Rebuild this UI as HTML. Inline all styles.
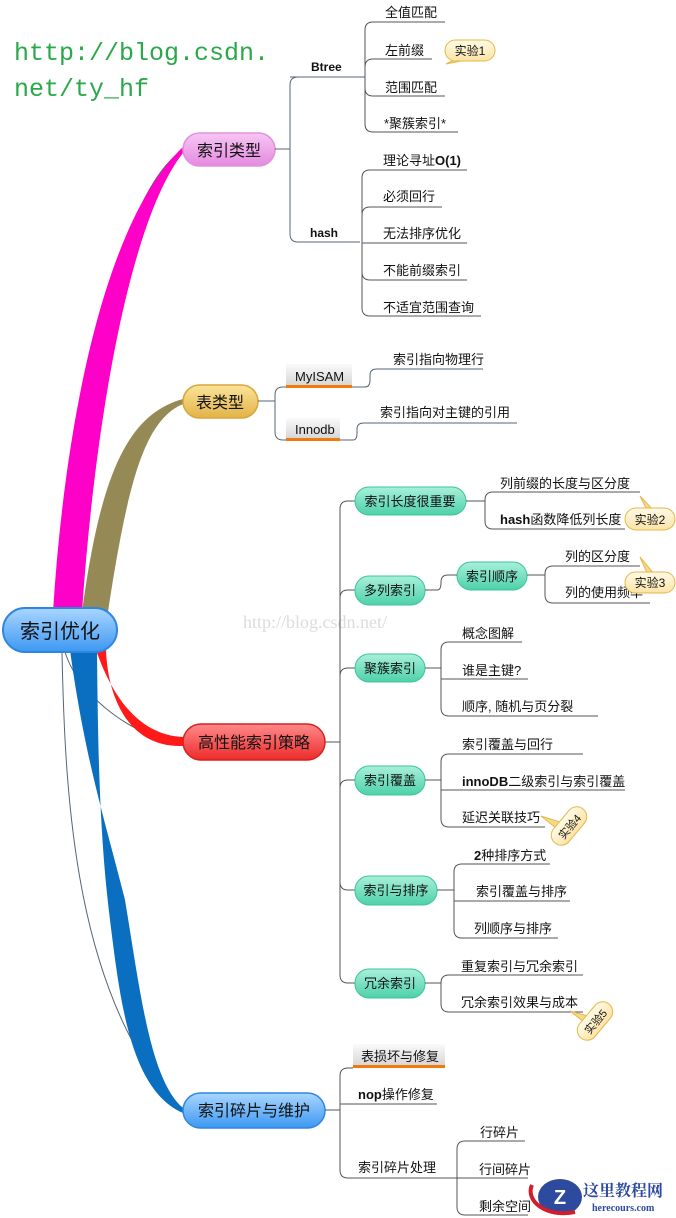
<!DOCTYPE html>
<html><head><meta charset="utf-8"><style>
html,body{margin:0;padding:0;background:#fff;}
svg{display:block;}
text{font-family:"Liberation Sans","Noto Sans CJK SC",sans-serif;fill:#111;}
.t{font-size:13px;}
.p{font-size:16px;}
.ln{fill:none;stroke:#556677;stroke-width:1;}
.gl{fill:none;stroke:#555;stroke-width:1;}
</style></head><body>
<svg width="676" height="1218" viewBox="0 0 676 1218" xmlns="http://www.w3.org/2000/svg">
<defs>
<linearGradient id="gPink" x1="0" y1="0" x2="0" y2="1"><stop offset="0" stop-color="#f7c6f3"/><stop offset="1" stop-color="#e58ae0"/></linearGradient>
<linearGradient id="gGold" x1="0" y1="0" x2="0" y2="1"><stop offset="0" stop-color="#fbe49a"/><stop offset="1" stop-color="#e3b346"/></linearGradient>
<linearGradient id="gRed" x1="0" y1="0" x2="0" y2="1"><stop offset="0" stop-color="#ff8a8a"/><stop offset="1" stop-color="#ee2a2a"/></linearGradient>
<linearGradient id="gBlue" x1="0" y1="0" x2="0" y2="1"><stop offset="0" stop-color="#a9d6ff"/><stop offset="1" stop-color="#3d98f2"/></linearGradient>
<linearGradient id="gTeal" x1="0" y1="0" x2="0" y2="1"><stop offset="0" stop-color="#a8f0da"/><stop offset="1" stop-color="#4dd1a9"/></linearGradient>
<linearGradient id="gGrey" x1="0" y1="0" x2="0" y2="1"><stop offset="0" stop-color="#fafafa"/><stop offset="1" stop-color="#d4d4d4"/></linearGradient>
<linearGradient id="gBub" x1="0" y1="0" x2="0" y2="1"><stop offset="0" stop-color="#fffbe8"/><stop offset="1" stop-color="#fbe3a6"/></linearGradient>
</defs>

<text x="14" y="60" style="font-family:'Liberation Mono',monospace;font-size:25px;fill:#2aa84a;">http://blog.csdn.</text>
<text x="14" y="96" style="font-family:'Liberation Mono',monospace;font-size:25px;fill:#2aa84a;">net/ty_hf</text>
<text x="243" y="628" style="font-family:'Liberation Serif',serif;font-size:18px;fill:#dcdcdc;">http://blog.csdn.net/</text>

<path class="ln" d="M60,610 C75,400 120,190 183,150"/>
<path class="ln" d="M95,612 C110,480 140,410 183,403"/>
<path class="ln" d="M65,652 C80,700 140,740 183,743"/>
<path class="ln" d="M62,652 C65,800 75,1000 183,1112"/>

<path fill="#ff00c8" d="M53,612 C65,420 105,220 183,147 L183,153 C130,220 95,420 82,612 Z"/>
<path fill="#958a55" d="M82,612 C100,480 125,415 183,399 L183,404 C145,420 128,480 108,612 Z"/>
<path fill="#ff1a1a" d="M96,650 C110,690 135,735 183,737 L183,746 C130,748 108,700 106,650 Z"/>
<path fill="#0a6fc0" d="M70,650 C85,760 105,820 125,900 C140,990 150,1080 183,1108 L183,1113 C130,1090 120,1000 110,920 C100,840 98,760 97,650 Z"/>

<rect x="3" y="608" width="114" height="44" rx="22" fill="url(#gBlue)" stroke="#2f86e0" stroke-width="2"/>
<text x="60" y="638" text-anchor="middle" style="font-size:20px;">索引优化</text>

<rect x="183" y="133" width="92" height="33" rx="16.5" fill="url(#gPink)" stroke="#e090dd" stroke-width="1.5"/>
<text x="229" y="156" text-anchor="middle" class="p">索引类型</text>
<path class="ln" d="M275,149 H290"/>
<path class="ln" d="M311,77 H298 Q290,77 290,85 V234 Q290,242 298,242 H360"/>
<text x="311" y="71" style="font-size:12px;font-weight:bold;">Btree</text>
<text x="310" y="237" style="font-size:12px;font-weight:bold;">hash</text>
<path class="ln" d="M290,77 H365"/>
<path class="gl" d="M445,22 H373 Q365,22 365,30 V124 Q365,132 373,132 H458"/>
<path class="gl" d="M365,67 Q365,59 373,59 H432"/>
<path class="gl" d="M365,88 Q365,96 373,96 H445"/>
<text x="385" y="17" class="t">全值匹配</text>
<text x="385" y="55" class="t">左前缀</text>
<text x="385" y="92" class="t">范围匹配</text>
<text x="384" y="128" class="t">*聚簇索引*</text>
<path d="M458,58 L446,64 L466,60 Z" fill="#f7d98a" stroke="#e5b84a"/>
<rect x="445" y="40" width="50" height="21" rx="10.5" fill="url(#gBub)" stroke="#e5b84a"/>
<text x="470" y="55" text-anchor="middle" style="font-size:12px;">实验1</text>

<path class="gl" d="M467,170 H370 Q362,170 362,178 V308 Q362,316 370,316 H481"/>
<path class="gl" d="M362,215 Q362,207 370,207 H442"/>
<path class="gl" d="M362,243 H467"/>
<path class="gl" d="M362,272 Q362,280 370,280 H467"/>
<text x="383" y="165" class="t">理论寻址<tspan style="font-weight:bold;">O(1)</tspan></text>
<text x="383" y="201" class="t">必须回行</text>
<text x="383" y="238" class="t">无法排序优化</text>
<text x="383" y="275" class="t">不能前缀索引</text>
<text x="383" y="312" class="t">不适宜范围查询</text>

<rect x="183" y="385" width="75" height="33" rx="16.5" fill="url(#gGold)" stroke="#d8a53a" stroke-width="1.5"/>
<text x="220" y="408" text-anchor="middle" class="p">表类型</text>
<path class="ln" d="M258,401 H275 M286,387 H283 Q275,387 275,395 V432 Q275,440 283,440 H286"/>
<rect x="286" y="364" width="66" height="23" fill="url(#gGrey)"/>
<rect x="286" y="385" width="66" height="3" fill="#f07a10"/>
<text x="295" y="381" style="font-size:13px;">MyISAM</text>
<rect x="286" y="418" width="54" height="22" fill="url(#gGrey)"/>
<rect x="286" y="438" width="54" height="3" fill="#f07a10"/>
<text x="295" y="434" style="font-size:13px;">Innodb</text>
<path class="ln" d="M352,387 H365 Q370,387 370,380 V375 Q370,369 377,369 H483"/>
<path class="ln" d="M340,440 H353 Q357,440 357,433 V429 Q357,423 364,423 H517"/>
<text x="393" y="364" class="t">索引指向物理行</text>
<text x="380" y="417" class="t">索引指向对主键的引用</text>

<rect x="183" y="724" width="142" height="36" rx="18" fill="url(#gRed)" stroke="#d82020" stroke-width="1.5"/>
<text x="254" y="748" text-anchor="middle" class="p">高性能索引策略</text>
<path class="gl" d="M325,742 H340"/>
<path class="gl" d="M355,501 H348 Q340,501 340,509 V975 Q340,983 348,983 H355"/>
<path class="gl" d="M340,598 Q340,590 348,590 H355 M340,676 Q340,668 348,668 H355 M340,788 Q340,780 348,780 H355 M340,882 Q340,890 348,890 H355"/>

<g>
<rect x="355" y="487" width="111" height="28" rx="14" fill="url(#gTeal)" stroke="#3cc597"/>
<text x="410" y="506" text-anchor="middle" style="font-size:13px;">索引长度很重要</text>
<rect x="355" y="576" width="70" height="29" rx="14" fill="url(#gTeal)" stroke="#3cc597"/>
<text x="390" y="595" text-anchor="middle" style="font-size:13px;">多列索引</text>
<rect x="355" y="654" width="70" height="28" rx="14" fill="url(#gTeal)" stroke="#3cc597"/>
<text x="390" y="673" text-anchor="middle" style="font-size:13px;">聚簇索引</text>
<rect x="355" y="766" width="70" height="29" rx="14" fill="url(#gTeal)" stroke="#3cc597"/>
<text x="390" y="785" text-anchor="middle" style="font-size:13px;">索引覆盖</text>
<rect x="355" y="876" width="82" height="29" rx="14" fill="url(#gTeal)" stroke="#3cc597"/>
<text x="396" y="895" text-anchor="middle" style="font-size:13px;">索引与排序</text>
<rect x="355" y="969" width="70" height="29" rx="14" fill="url(#gTeal)" stroke="#3cc597"/>
<text x="390" y="988" text-anchor="middle" style="font-size:13px;">冗余索引</text>
<rect x="457" y="562" width="70" height="28" rx="14" fill="url(#gTeal)" stroke="#3cc597"/>
<text x="492" y="581" text-anchor="middle" style="font-size:13px;">索引顺序</text>
</g>

<path class="gl" d="M466,501 H485"/>
<path class="gl" d="M640,492 H493 Q485,492 485,500 V521 Q485,529 493,529 H625"/>
<text x="500" y="488" class="t">列前缀的长度与区分度</text>
<text x="500" y="524" class="t"><tspan style="font-weight:bold;">hash</tspan>函数降低列长度</text>
<path d="M640,496 L648,512 L655,512 Z" fill="#f7d98a" stroke="#e5b84a"/>
<rect x="625" y="508" width="50" height="22" rx="11" fill="url(#gBub)" stroke="#e5b84a"/>
<text x="650" y="524" text-anchor="middle" style="font-size:12px;">实验2</text>

<path class="gl" d="M425,590 H437 Q441,590 441,583 V582 Q441,575 448,575 H457"/>
<path class="gl" d="M527,575 H545"/>
<path class="gl" d="M640,566 H553 Q545,566 545,574 V595 Q545,603 553,603 H650"/>
<text x="565" y="561" class="t">列的区分度</text>
<text x="565" y="597" class="t">列的使用频率</text>
<path d="M640,557 L648,575 L655,575 Z" fill="#f7d98a" stroke="#e5b84a"/>
<rect x="625" y="572" width="50" height="21" rx="10.5" fill="url(#gBub)" stroke="#e5b84a"/>
<text x="650" y="587" text-anchor="middle" style="font-size:12px;">实验3</text>

<path class="gl" d="M425,668 H441"/>
<path class="gl" d="M522,642 H449 Q441,642 441,650 V708 Q441,716 449,716 H598 M441,679 H528"/>
<text x="462" y="638" class="t">概念图解</text>
<text x="462" y="675" class="t">谁是主键?</text>
<text x="462" y="711" class="t">顺序, 随机与页分裂</text>

<path class="gl" d="M425,780 H441"/>
<path class="gl" d="M583,754 H449 Q441,754 441,762 V819 Q441,827 449,827 H545 M441,790 H625"/>
<text x="462" y="749" class="t">索引覆盖与回行</text>
<text x="462" y="786" class="t"><tspan style="font-weight:bold;">innoDB</tspan>二级索引与索引覆盖</text>
<text x="462" y="822" class="t">延迟关联技巧</text>
<path d="M541,816 L560,822 L556,828 Z" fill="#f7d98a" stroke="#e5b84a"/>
<g transform="translate(569,826) rotate(-50)">
<rect x="-22" y="-10" width="44" height="20" rx="10" fill="url(#gBub)" stroke="#e5b84a"/>
<text x="0" y="5" text-anchor="middle" style="font-size:11px;">实验4</text>
</g>

<path class="gl" d="M437,890 H454"/>
<path class="gl" d="M550,864 H462 Q454,864 454,872 V930 Q454,938 462,938 H558 M454,901 H570"/>
<text x="474" y="860" class="t"><tspan style="font-weight:bold;">2</tspan>种排序方式</text>
<text x="476" y="896" class="t">索引覆盖与排序</text>
<text x="474" y="933" class="t">列顺序与排序</text>

<path class="gl" d="M425,983 H441"/>
<path class="gl" d="M583,975 H449 Q441,975 441,983 V1004 Q441,1012 449,1012 H583"/>
<text x="461" y="971" class="t">重复索引与冗余索引</text>
<text x="461" y="1007" class="t">冗余索引效果与成本</text>
<path d="M570,1011 L588,1016 L584,1022 Z" fill="#f7d98a" stroke="#e5b84a"/>
<g transform="translate(595,1021) rotate(-50)">
<rect x="-22" y="-10" width="44" height="20" rx="10" fill="url(#gBub)" stroke="#e5b84a"/>
<text x="0" y="5" text-anchor="middle" style="font-size:11px;">实验5</text>
</g>

<rect x="183" y="1093" width="142" height="35" rx="17.5" fill="url(#gBlue)" stroke="#2f86e0" stroke-width="1.5"/>
<text x="254" y="1116" text-anchor="middle" class="p">索引碎片与维护</text>
<path class="gl" d="M325,1110 H340"/>
<path class="gl" d="M353,1068 H348 Q340,1068 340,1076 V1170 Q340,1178 348,1178 H460 M340,1104 H437"/>
<rect x="353" y="1044" width="92" height="23" fill="url(#gGrey)"/>
<rect x="353" y="1065" width="92" height="3" fill="#f07a10"/>
<text x="361" y="1061" class="t">表损坏与修复</text>
<text x="358" y="1099" class="t"><tspan style="font-weight:bold;">nop</tspan>操作修复</text>
<text x="358" y="1172" class="t">索引碎片处理</text>
<path class="gl" d="M525,1141 H465 Q457,1141 457,1149 V1207 Q457,1215 465,1215 H528 M457,1178 H528"/>
<text x="480" y="1137" class="t">行碎片</text>
<text x="479" y="1174" class="t">行间碎片</text>
<text x="479" y="1211" class="t">剩余空间</text>

<ellipse cx="560" cy="1197" rx="22" ry="18" fill="#2d4a9e"/>
<path d="M532,1185 C525,1200 545,1218 575,1212" fill="none" stroke="#d21e2a" stroke-width="4"/>
<text x="560" y="1204" text-anchor="middle" style="font-size:20px;font-weight:bold;fill:#fff;font-family:'Liberation Sans',sans-serif;">Z</text>
<text x="583" y="1196" style="font-family:'Liberation Serif','Noto Serif CJK SC',serif;font-size:16px;font-weight:bold;fill:#2d4a9e;">这里教程网</text>
<text x="592" y="1211" style="font-family:'Liberation Serif',serif;font-size:10px;font-weight:bold;fill:#2d4a9e;">herecours.com</text>
</svg>
</body></html>
